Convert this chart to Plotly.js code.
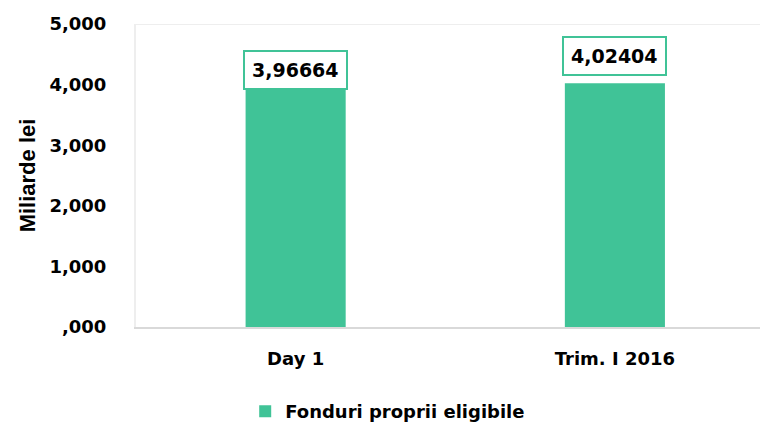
<!DOCTYPE html>
<html>
<head>
<meta charset="utf-8">
<script src="https://cdn.plot.ly/plotly-3.0.1.min.js"></script>
<style>html,body{margin:0;padding:0;background:#fff;}#chart{width:760px;height:427px;}</style>
</head>
<body>
<div id="chart"></div>
<script>
var categories = ["Day 1", "Trim. I 2016"];
var values = [3.96664, 4.02404];
var valueLabels = ["3,96664", "4,02404"];
var seriesName = "Fonduri proprii eligibile";
var yTickValues = [0, 1, 2, 3, 4, 5];
var yTickLabels = [",000", "1,000", "2,000", "3,000", "4,000", "5,000"];

var green = "#40C397";
var font = "DejaVu Sans";
var labelShift = [-3, 7];

var trace = {
  type: "bar",
  x: categories,
  y: values,
  name: seriesName,
  width: 0.3135,
  marker: {color: green},
  hoverinfo: "skip"
};

var annotations = categories.map(function (c, i) {
  return {
    x: c, y: values[i], xref: "x", yref: "y",
    text: "<b>" + valueLabels[i] + "</b>",
    showarrow: false, yanchor: "bottom", yshift: labelShift[i],
    font: {family: font, size: 19, color: "#000"},
    bgcolor: "#fff", bordercolor: green, borderwidth: 2, borderpad: 7
  };
});

var layout = {
  width: 760, height: 427,
  margin: {l: 136, r: 0, t: 24, b: 100, pad: 0, autoexpand: false},
  paper_bgcolor: "#fff", plot_bgcolor: "#fff",
  font: {family: font, size: 17, color: "#000"},
  showlegend: true,
  legend: {
    orientation: "h", x: 0.175, xanchor: "left", y: -0.218, yanchor: "top",
    font: {family: font, size: 18, color: "#000", weight: "bold"}
  },
  xaxis: {
    type: "category", range: [-0.5, 1.4545],
    showgrid: false, zeroline: false,
    showline: true, linecolor: "#d9d9d9", linewidth: 2,
    ticks: "outside", ticklen: 14, tickcolor: "rgba(0,0,0,0)",
    tickfont: {family: font, size: 18, color: "#000", weight: "bold"}
  },
  yaxis: {
    range: [0, 5], tickvals: yTickValues, ticktext: yTickLabels,
    showgrid: false, zeroline: false,
    showline: true, linecolor: "#eeeeee", linewidth: 2,
    ticks: "outside", ticklen: 24, tickcolor: "rgba(0,0,0,0)",
    tickfont: {family: font, size: 18, color: "#000", weight: "bold"},
    title: {text: "<b>Miliarde lei</b>", font: {family: "Liberation Sans", size: 22, color: "#000"}, standoff: 8}
  },
  shapes: [{
    type: "line", xref: "paper", yref: "y", x0: 0, x1: 1, y0: 5, y1: 5,
    line: {color: "#eeeeee", width: 2}
  }],
  annotations: annotations
};

Plotly.newPlot("chart", [trace], layout, {displayModeBar: false, staticPlot: true});
</script>
</body>
</html>
